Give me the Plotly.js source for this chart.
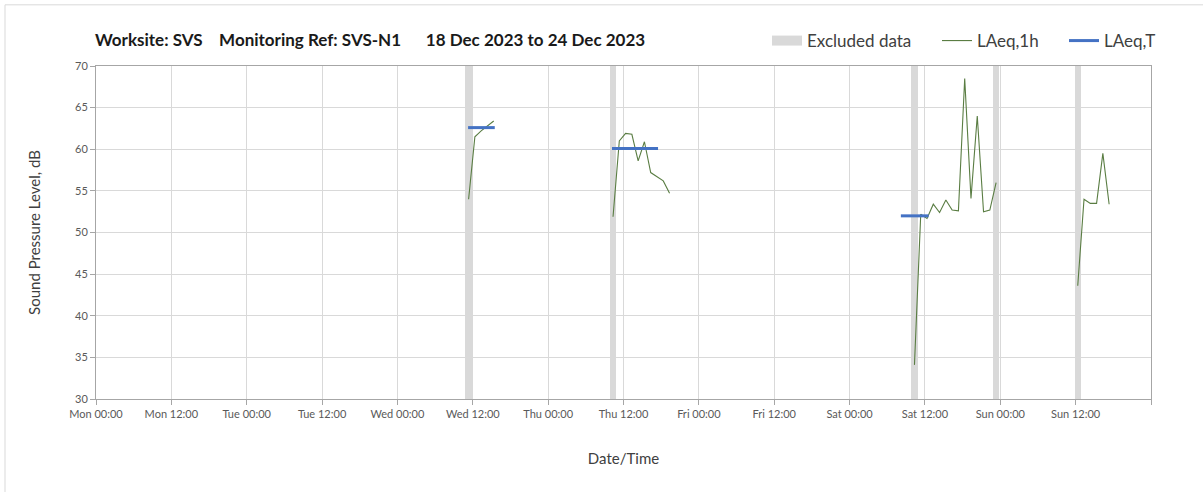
<!DOCTYPE html>
<html>
<head>
<meta charset="utf-8">
<script src="https://cdn.plot.ly/plotly-3.0.1.min.js"></script>
<style>
  html, body { margin: 0; padding: 0; background: #ffffff; }
  #chart { width: 1203px; height: 492px; }
</style>
</head>
<body>
<div id="chart"></div>
<script>
// ---- Data ----
const excludedTimes = ['2023-12-20 11:20', '2023-12-21 10:20', '2023-12-23 10:20', '2023-12-23 23:20', '2023-12-24 12:20'];

const wedTimes  = ['2023-12-20 11:20', '2023-12-20 12:20', '2023-12-20 13:20', '2023-12-20 14:20', '2023-12-20 15:20'];
const wedValues = [54.0, 61.5, 62.2, 62.8, 63.4];

const thuTimes  = ['2023-12-21 10:20', '2023-12-21 11:20', '2023-12-21 12:20', '2023-12-21 13:20', '2023-12-21 14:20',
                   '2023-12-21 15:20', '2023-12-21 16:20', '2023-12-21 17:20', '2023-12-21 18:20', '2023-12-21 19:20'];
const thuValues = [51.9, 61.0, 61.9, 61.8, 58.6, 60.9, 57.2, 56.7, 56.2, 54.7];

const satTimes  = ['2023-12-23 10:20', '2023-12-23 11:20', '2023-12-23 12:20', '2023-12-23 13:20', '2023-12-23 14:20',
                   '2023-12-23 15:20', '2023-12-23 16:20', '2023-12-23 17:20', '2023-12-23 18:20', '2023-12-23 19:20',
                   '2023-12-23 20:20', '2023-12-23 21:20', '2023-12-23 22:20', '2023-12-23 23:20'];
const satValues = [34.1, 52.2, 51.7, 53.4, 52.4, 53.9, 52.7, 52.6, 68.5, 54.1, 64.0, 52.5, 52.7, 56.0];

const sunTimes  = ['2023-12-24 12:20', '2023-12-24 13:20', '2023-12-24 14:20', '2023-12-24 15:20', '2023-12-24 16:20', '2023-12-24 17:20'];
const sunValues = [43.6, 54.0, 53.5, 53.5, 59.5, 53.4];

// LAeq,T period levels (start, end, level)
const periodStarts = ['2023-12-20 11:15', '2023-12-21 10:10', '2023-12-23 08:10'];
const periodEnds   = ['2023-12-20 15:30', '2023-12-21 17:30', '2023-12-23 12:35'];
const periodLevels = [62.6, 60.1, 52.0];

const tickTimes  = ['2023-12-18 00:00', '2023-12-18 12:00', '2023-12-19 00:00', '2023-12-19 12:00', '2023-12-20 00:00',
                    '2023-12-20 12:00', '2023-12-21 00:00', '2023-12-21 12:00', '2023-12-22 00:00', '2023-12-22 12:00',
                    '2023-12-23 00:00', '2023-12-23 12:00', '2023-12-24 00:00', '2023-12-24 12:00', '2023-12-25 00:00'];
const tickLabels = ['Mon 00:00', 'Mon 12:00', 'Tue 00:00', 'Tue 12:00', 'Wed 00:00', 'Wed 12:00', 'Thu 00:00',
                    'Thu 12:00', 'Fri 00:00', 'Fri 12:00', 'Sat 00:00', 'Sat 12:00', 'Sun 00:00', 'Sun 12:00', ''];

// ---- Build traces ----
const yMin = 30, yMax = 70;
const lineX = [], lineY = [];
[[wedTimes, wedValues], [thuTimes, thuValues], [satTimes, satValues], [sunTimes, sunValues]].forEach(([t, v], i) => {
  if (i > 0) { lineX.push(null); lineY.push(null); }
  t.forEach((tt, k) => { lineX.push(tt); lineY.push(v[k]); });
});
const perX = [], perY = [];
periodLevels.forEach((lv, i) => {
  if (i > 0) { perX.push(null); perY.push(null); }
  perX.push(periodStarts[i], periodEnds[i]);
  perY.push(lv, lv);
});

const font = 'Lato, "Open Sans", "DejaVu Sans", sans-serif';
const excludedColor = '#d9d9d9';

const traces = [
  {
    type: 'bar', name: 'Excluded data', showlegend: false,
    x: excludedTimes, y: excludedTimes.map(() => yMax - yMin), base: yMin,
    width: excludedTimes.map(() => 3600000),
    marker: { color: excludedColor, line: { width: 0 } },
    hoverinfo: 'x'
  },
  {
    // legend entry for the excluded bands (wide grey swatch)
    type: 'scatter', mode: 'lines', name: 'Excluded data', legend: 'legend',
    x: [null], y: [null],
    line: { color: excludedColor, width: 11 }
  },
  {
    type: 'scatter', mode: 'lines', name: 'LAeq,1h', legend: 'legend2',
    x: lineX, y: lineY, connectgaps: false,
    line: { color: '#5a7d43', width: 1.1 }
  },
  {
    type: 'scatter', mode: 'lines', name: 'LAeq,T', legend: 'legend3',
    x: perX, y: perY, connectgaps: false,
    line: { color: '#4472c4', width: 3 }
  }
];

const legendBase = {
  orientation: 'h',
  xanchor: 'left',
  y: 1.075, yanchor: 'middle',
  font: { family: font, size: 17, color: '#404040' },
  bgcolor: 'rgba(0,0,0,0)',
  itemwidth: 30
};

const layout = {
  width: 1203, height: 492,
  margin: { l: 96, r: 52, t: 66, b: 93 },
  paper_bgcolor: '#ffffff', plot_bgcolor: '#ffffff',
  font: { family: font, color: '#404040', size: 12 },
  showlegend: true,
  bargap: 0,
  title: {
    text: 'Worksite: SVS&nbsp;&nbsp;&nbsp;&nbsp;Monitoring Ref: SVS-N1&nbsp;&nbsp;&nbsp;&nbsp;&nbsp;&nbsp;18 Dec 2023 to 24 Dec 2023',
    font: { family: font, size: 17, color: '#1a1a1a', weight: 'bold' },
    xref: 'container', yref: 'container',
    x: 95 / 1203, xanchor: 'left',
    y: 1 - 40 / 492, yanchor: 'middle'
  },
  legend:  Object.assign({}, legendBase, { x: (767 - 96) / 1055 }),
  legend2: Object.assign({}, legendBase, { x: (937 - 96) / 1055 }),
  legend3: Object.assign({}, legendBase, { x: (1064 - 96) / 1055 }),
  xaxis: {
    type: 'date',
    range: ['2023-12-18 00:00', '2023-12-25 00:00'],
    tickmode: 'array', tickvals: tickTimes, ticktext: tickLabels,
    tickfont: { family: font, size: 11, color: '#595959' },
    ticks: 'outside', ticklen: 5, tickcolor: '#a6a6a6',
    showgrid: true, gridcolor: '#d9d9d9', gridwidth: 1,
    showline: true, linecolor: '#a6a6a6', linewidth: 1, mirror: true,
    zeroline: false,
    title: { text: 'Date/Time', font: { family: font, size: 15, color: '#404040' }, standoff: 34 },
    automargin: false,
    fixedrange: true
  },
  yaxis: {
    range: [yMin, yMax],
    dtick: 5, tick0: 30,
    tickfont: { family: font, size: 11, color: '#595959' },
    ticks: 'outside', ticklen: 5, tickcolor: '#a6a6a6',
    showgrid: true, gridcolor: '#d9d9d9', gridwidth: 1,
    showline: true, linecolor: '#a6a6a6', linewidth: 1, mirror: true,
    zeroline: false,
    title: { text: 'Sound Pressure Level, dB', font: { family: font, size: 15, color: '#404040' }, standoff: 30 },
    automargin: false,
    fixedrange: true
  },
  shapes: [
    { type: 'line', xref: 'paper', yref: 'paper', x0: (5 - 96) / 1055, x1: 1.06, y0: (398 - 5) / 332, y1: (398 - 5) / 332,
      line: { color: '#d9d9d9', width: 1 } },
    { type: 'line', xref: 'paper', yref: 'paper', x0: (5 - 96) / 1055, x1: (5 - 96) / 1055, y0: (398 - 5) / 332, y1: -0.3,
      line: { color: '#d9d9d9', width: 1 } }
  ]
};

Plotly.newPlot('chart', traces, layout, { displayModeBar: false, staticPlot: true });
</script>
</body>
</html>
